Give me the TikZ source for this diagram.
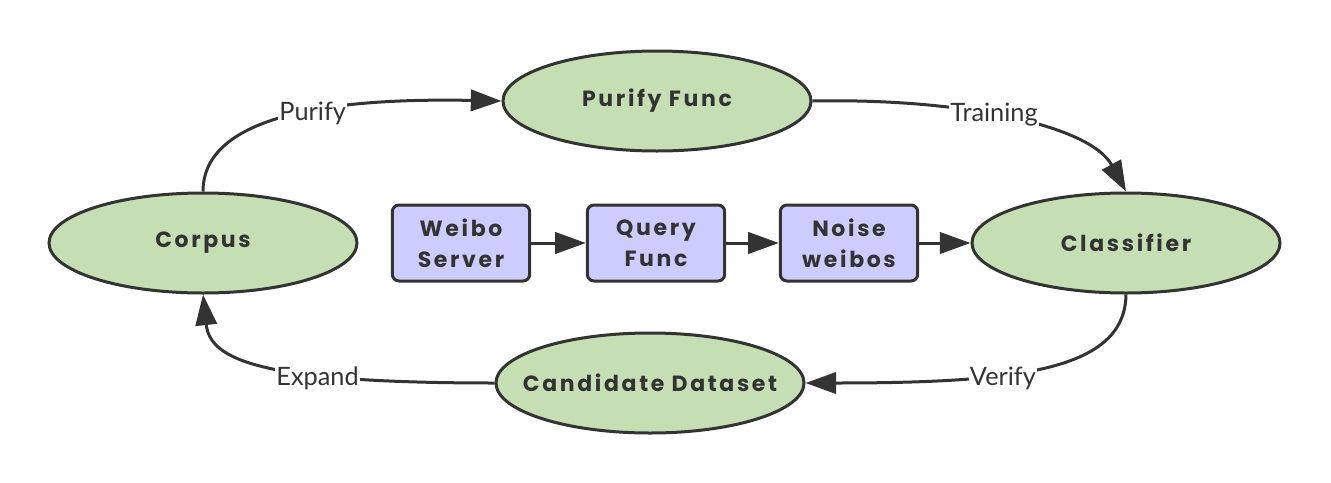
\documentclass[tikz,border=0pt]{standalone}
\usepackage{fontspec}
\usetikzlibrary{arrows.meta,shapes.geometric}
\newfontfamily\nodefont[LetterSpace=12]{Poppins}
\newfontfamily\labfont{Lato}
\definecolor{strokec}{HTML}{333333}
\definecolor{greenfill}{HTML}{C5DEB3}
\definecolor{purplefill}{HTML}{CCCCFF}
\begin{document}
\begin{tikzpicture}[x=0.75pt,y=-0.75pt,
  every node/.style={text=strokec},
  ell/.style={ellipse, draw=strokec, fill=greenfill, line width=2.25pt,
    minimum width=231pt, minimum height=75pt, inner sep=0pt,
    font=\nodefont\bfseries\fontsize{16.5}{22}\selectfont},
  sbox/.style={rectangle, rounded corners=5pt, draw=strokec, fill=purplefill, line width=2.25pt,
    minimum width=103pt, minimum height=57pt, inner sep=0pt, align=center,
    font=\nodefont\bfseries\fontsize{16.5}{23}\selectfont},
  conn/.style={draw=strokec, line width=2.25pt, -{Triangle[length=23pt,width=16pt]}},
  lab/.style={fill=white, inner sep=1pt, font=\labfont\fontsize{19}{22}\selectfont}
]
\useasboundingbox (0,0) rectangle (1331,482);
\node[ell] (corpus) at (203,243) {\makebox[0pt]{Corpus}};
\node[ell] (purify) at (657,101) {\makebox[0pt]{Purify Func}};
\node[ell] (classifier) at (1126,243) {\makebox[0pt]{Classifier}};
\node[ell] (candidate) at (650,383) {\makebox[0pt]{Candidate Dataset}};
\node[sbox] (weibo) at (461,243) {Weibo\\Server};
\node[sbox] (query) at (656,243) {Query\\Func};
\node[sbox] (noise) at (849,243) {Noise\\weibos};
\draw[conn] (weibo) -- (query);
\draw[conn] (query) -- (noise);
\draw[conn] (noise) -- (classifier);
\draw[conn] (corpus.north) .. controls (203,110) and (350,98) .. (purify.west)
  node[lab, pos=0.55, yshift=-2pt] {Purify};
\draw[conn] (purify.east) .. controls (960,98) and (1090,125) .. (classifier.north)
  node[lab, pos=0.45, yshift=1pt] {Training};
\draw[conn] (classifier.south) .. controls (1125,370) and (1020,383) .. (candidate.east)
  node[lab, pos=0.62, yshift=-3pt] {Verify};
\draw[conn] (candidate.west) .. controls (260,383) and (210,360) .. (corpus.south)
  node[lab, pos=0.33, yshift=-3pt] {Expand};
\end{tikzpicture}
\end{document}
